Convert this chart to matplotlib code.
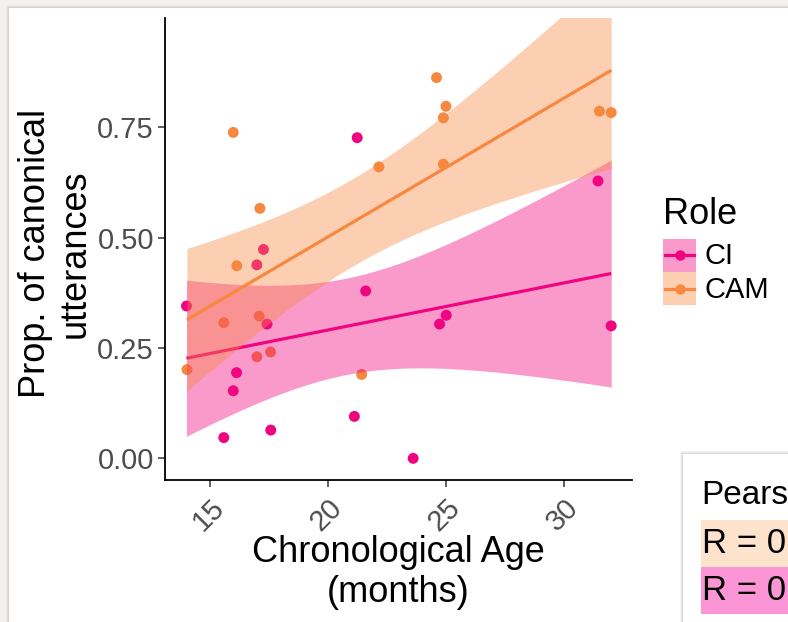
import numpy as np
import matplotlib
matplotlib.use("Agg")
import matplotlib.pyplot as plt
from matplotlib.patches import Rectangle
from matplotlib.lines import Line2D

plt.rcParams['font.family'] = ['Liberation Sans', 'DejaVu Sans']

# ---- data ----
roles = ["CI", "CAM"]
ci_age = [14.01, 21.24, 17.27, 16.99, 17.42, 16.13, 15.99, 15.59, 17.58, 21.12,
          21.60, 23.61, 24.73, 25.01, 32.00, 31.44]
ci_prop = [0.345, 0.726, 0.473, 0.438, 0.304, 0.194, 0.153, 0.047, 0.064, 0.095,
           0.379, 0.000, 0.304, 0.324, 0.300, 0.628]
cam_age = [14.03, 15.99, 15.59, 16.14, 17.12, 17.09, 16.99, 17.57, 21.43, 22.16,
           24.60, 25.00, 24.89, 24.89, 31.50, 32.00]
cam_prop = [0.201, 0.738, 0.307, 0.436, 0.566, 0.322, 0.230, 0.241, 0.190, 0.660,
            0.862, 0.797, 0.771, 0.666, 0.786, 0.783]
x_ticks = [15, 20, 25, 30]
y_ticks = [0.00, 0.25, 0.50, 0.75]
y_ticklabels = ["0.00", "0.25", "0.50", "0.75"]
pearson_title = "Pears"
pearson_rows = ["R = 0", "R = 0"]

col = {"CI": "#F0047F", "CAM": "#F8883F"}
T975 = 2.1448  # t quantile, df = 14

W, H = 788, 622
fig = plt.figure(figsize=(W / 100, H / 100), dpi=100)
fig.patch.set_facecolor("#F2F1ED")

def fx(px):
    return px / W

def fy(py):
    return 1 - py / H

# card with soft shadow
for i, a in enumerate([0.03, 0.04, 0.05]):
    fig.patches.append(Rectangle((fx(9 - 3 + i), 0), 1, fy(8 - 3 + i), transform=fig.transFigure,
                                 facecolor="black", alpha=a, edgecolor="none", zorder=-2))
fig.patches.append(Rectangle((fx(9), 0), 1, fy(8), transform=fig.transFigure,
                             facecolor="white", edgecolor="none", zorder=-1))

ax = fig.add_axes([fx(165), fy(480), fx(632) - fx(165), fy(18) - fy(480)])
ax.set_zorder(1)
ax.set_facecolor("none")
ax.set_xlim(13.1, 32.88)
ax.set_ylim(-0.049, 0.997)

groups = {"CI": (np.array(ci_age), np.array(ci_prop)),
          "CAM": (np.array(cam_age), np.array(cam_prop))}

for r in roles:
    x, y = groups[r]
    ax.scatter(x, y, s=62, color=col[r], edgecolors="none", zorder=2)

for r in roles:
    x, y = groups[r]
    n = len(x)
    b, a = np.polyfit(x, y, 1)
    res = y - (a + b * x)
    s = np.sqrt(np.sum(res ** 2) / (n - 2))
    xm = x.mean()
    sxx = np.sum((x - xm) ** 2)
    xs = np.linspace(x.min(), x.max(), 200)
    yh = a + b * xs
    se = s * np.sqrt(1 / n + (xs - xm) ** 2 / sxx)
    ax.fill_between(xs, yh - T975 * se, yh + T975 * se, color=col[r], alpha=0.4,
                    linewidth=0, zorder=3)
    ax.plot(xs, yh, color=col[r], lw=2.3, zorder=3, solid_capstyle="butt")

for sp in ["top", "right"]:
    ax.spines[sp].set_visible(False)
for sp in ["left", "bottom"]:
    ax.spines[sp].set_linewidth(1.3)
    ax.spines[sp].set_color("black")

ax.set_xticks(x_ticks)
ax.set_xticklabels([str(t) for t in x_ticks], rotation=45, ha="right", va="top",
                   rotation_mode="anchor")
ax.set_yticks(y_ticks)
ax.set_yticklabels(y_ticklabels)
ax.tick_params(axis="both", length=5, width=1.1, color="#333333", labelcolor="#4D4D4D",
               labelsize=21)
ax.tick_params(axis="x", pad=5)
ax.tick_params(axis="y", pad=3)

fig.text(fx(398), fy(553), "Chronological Age", ha="center", va="center", fontsize=26)
fig.text(fx(398), fy(593), "(months)", ha="center", va="center", fontsize=26)
fig.text(fx(36), fy(254), "Prop. of canonical", ha="center", va="center", fontsize=26,
         rotation=90)
fig.text(fx(75), fy(254), "utterances", ha="center", va="center", fontsize=26, rotation=90)

# legend
fig.text(fx(663), fy(214), "Role", ha="left", va="center", fontsize=26)
key_top = {"CI": 239, "CAM": 272}
for r in roles:
    t = key_top[r]
    fig.patches.append(Rectangle((fx(663), fy(t + 33)), fx(33), 33 / H, transform=fig.transFigure,
                                 facecolor=col[r], alpha=0.4, edgecolor="none", zorder=3))
    fig.lines.append(Line2D([fx(665), fx(694)], [fy(t + 16.5)] * 2, transform=fig.transFigure,
                            color=col[r], lw=2.3, zorder=4))
    fig.lines.append(Line2D([fx(679.5)], [fy(t + 16.5)], transform=fig.transFigure,
                            marker="o", markersize=7.5, color=col[r], markeredgewidth=0, zorder=4))
    fig.text(fx(705), fy(t + 17.5), r, ha="left", va="center", fontsize=21)

# Pearson box (cut off at the right edge in the reference)
for i, a in enumerate([0.04, 0.05, 0.06]):
    fig.patches.append(Rectangle((fx(683 - 3 + i), 0), 1, fy(454 - 3 + i), transform=fig.transFigure,
                                 facecolor="black", alpha=a, edgecolor="none", zorder=5))
fig.patches.append(Rectangle((fx(683), 0), 1, fy(454), transform=fig.transFigure,
                             facecolor="white", edgecolor="none", zorder=5.5))
fig.text(fx(701), fy(496), pearson_title, ha="left", va="center", fontsize=24, zorder=7)
rows = [("#FDE3CC", 520), ("#FC95D5", 567)]
for (bg, top), label in zip(rows, pearson_rows):
    fig.patches.append(Rectangle((fx(701), fy(top + 47)), 1, 47 / H, transform=fig.transFigure,
                                 facecolor=bg, edgecolor="none", zorder=6))
    fig.text(fx(702), fy(top + 23.5), label, ha="left", va="center",
             fontsize=25, zorder=7)

fig.savefig("out.png", dpi=100)
